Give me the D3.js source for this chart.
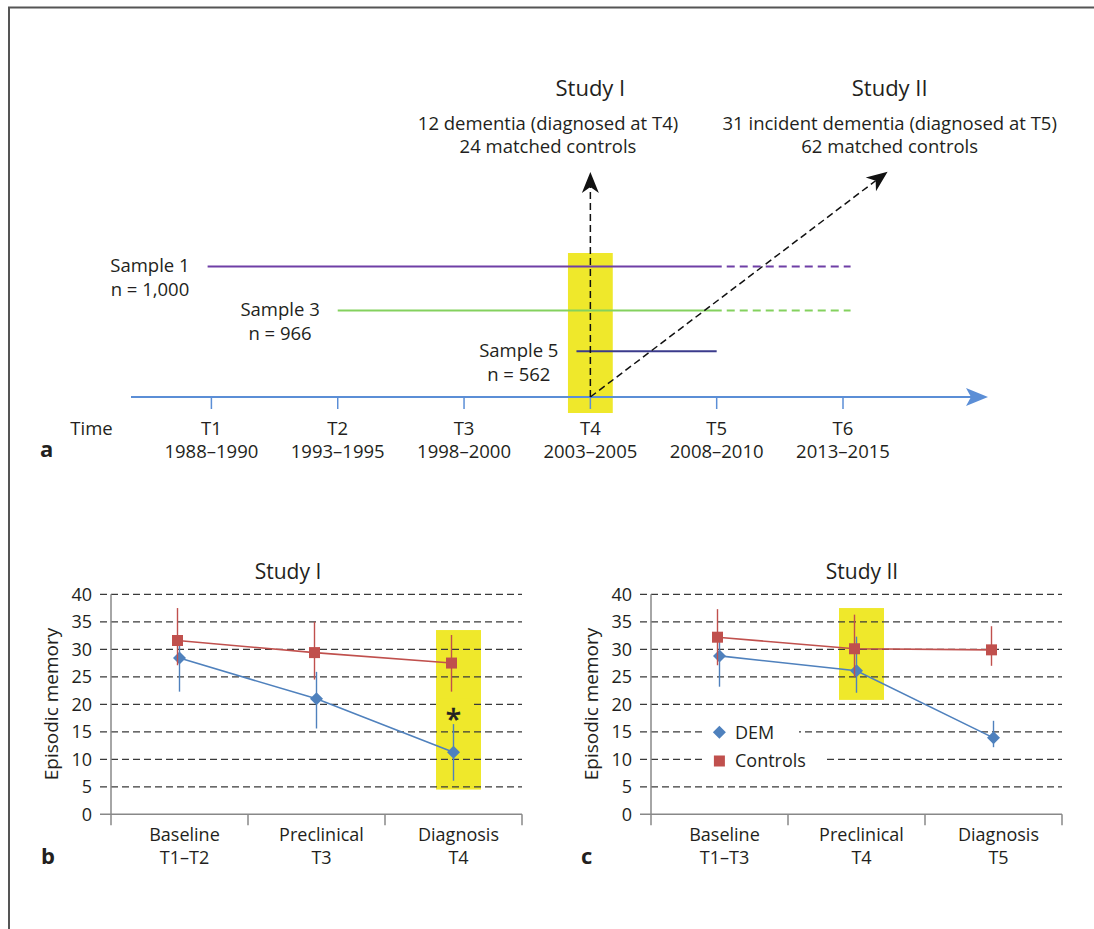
<!DOCTYPE html>
<html><head><meta charset="utf-8">
<script src="https://cdn.jsdelivr.net/npm/d3@7"></script>
<style>
html,body{margin:0;padding:0;background:#fff;}
svg{display:block;font-family:"Open Sans",sans-serif;}
</style></head><body>
<svg id="chart" width="1094" height="929"></svg>
<script>
// ---------------- DATA ----------------
// Panel a: timeline
const timePoints = ["T1", "T2", "T3", "T4", "T5", "T6"];
const timeYears = ["1988–1990", "1993–1995", "1998–2000", "2003–2005", "2008–2010", "2013–2015"];
const sampleNames = ["Sample 1", "Sample 3", "Sample 5"];
const sampleSizes = ["n = 1,000", "n = 966", "n = 562"];
const sampleStart = [0.97, 2.0, 3.89];      // in wave units (T1 = 1)
const sampleSolidEnd = [5.04, 5.04, 5.0];
const sampleDashEnd = [6.06, 6.06, null];
const studyTitles = ["Study I", "Study II"];
const studyLine1 = ["12 dementia (diagnosed at T4)", "31 incident dementia (diagnosed at T5)"];
const studyLine2 = ["24 matched controls", "62 matched controls"];
const studyWave = [4, 4];                    // both studies start at T4

// Panels b, c: episodic memory
const yTicks = [0, 5, 10, 15, 20, 25, 30, 35, 40];
const catTop = ["Baseline", "Preclinical", "Diagnosis"];
const catBottomB = ["T1–T2", "T3", "T4"];
const catBottomC = ["T1–T3", "T4", "T5"];

const demMeanB = [28.4, 21.0, 11.3];
const demLowB = [22.3, 15.6, 6.1];
const demHighB = [31.0, 25.9, 16.4];
const ctrlMeanB = [31.6, 29.4, 27.5];
const ctrlLowB = [27.1, 24.5, 22.3];
const ctrlHighB = [37.5, 35.0, 32.6];

const demMeanC = [28.8, 26.1, 13.9];
const demLowC = [23.2, 22.1, 12.2];
const demHighC = [32.0, 32.3, 17.0];
const ctrlMeanC = [32.2, 30.1, 29.9];
const ctrlLowC = [27.1, 25.0, 27.0];
const ctrlHighC = [37.3, 36.3, 34.2];

const legendLabels = ["DEM", "Controls"];

// ---------------- STYLE ----------------
const TXT = "#231f20";
const RED = "#c0504d", BLUE = "#4f81bd", YELLOW = "#efe82b";
const sampleColors = ["#6f3fa6", "#84d15e", "#3b3b8c"];
const TL_BLUE = "#5b8ed6";

const svg = d3.select("#chart");

// frame
svg.append("line").attr("x1", 8).attr("x2", 1094).attr("y1", 7.5).attr("y2", 7.5).attr("stroke", "#555").attr("stroke-width", 2);
svg.append("line").attr("x1", 9).attr("x2", 9).attr("y1", 7).attr("y2", 929).attr("stroke", "#555").attr("stroke-width", 2);

// ---------------- PANEL A ----------------
const tx = d3.scaleLinear().domain([1, 6]).range([211.4, 843]);
const tlY = 397;
const sampleY = [266.5, 310.5, 351.3];
const gA = svg.append("g");

// yellow highlight at T4
gA.append("rect").attr("x", tx(4) - 22.4).attr("width", 44.8).attr("y", 253).attr("height", 160).attr("fill", YELLOW);

// sample lines
sampleNames.forEach((s, i) => {
  gA.append("line").attr("x1", tx(sampleStart[i])).attr("x2", tx(sampleSolidEnd[i]))
    .attr("y1", sampleY[i]).attr("y2", sampleY[i]).attr("stroke", sampleColors[i]).attr("stroke-width", 2);
  if (sampleDashEnd[i] != null) {
    gA.append("line").attr("x1", tx(sampleSolidEnd[i]) + 5).attr("x2", tx(sampleDashEnd[i]))
      .attr("y1", sampleY[i]).attr("y2", sampleY[i]).attr("stroke", sampleColors[i]).attr("stroke-width", 1.8)
      .attr("stroke-dasharray", "8,5");
  }
  const lab = gA.append("g").attr("font-size", 18.5).attr("fill", TXT).attr("text-anchor", "middle");
  const t1 = lab.append("text").attr("y", sampleY[i] + 5.8).text(s);
  const t2 = lab.append("text").attr("y", sampleY[i] + 29.6).text(sampleSizes[i]);
  const w = Math.max(t1.node().getComputedTextLength(), t2.node().getComputedTextLength());
  const cx = tx(sampleStart[i]) - 18 - w / 2;
  t1.attr("x", cx); t2.attr("x", cx);
});

// timeline
gA.append("line").attr("x1", 131).attr("x2", 975).attr("y1", tlY).attr("y2", tlY).attr("stroke", TL_BLUE).attr("stroke-width", 2);
gA.append("path").attr("d", `M988,${tlY}L966,${tlY - 9}L971,${tlY}L966,${tlY + 9}Z`).attr("fill", TL_BLUE);
gA.selectAll(".tk").data(timePoints).enter().append("line")
  .attr("x1", (d, i) => tx(i + 1)).attr("x2", (d, i) => tx(i + 1))
  .attr("y1", tlY).attr("y2", tlY + 12).attr("stroke", TL_BLUE).attr("stroke-width", 1.5);
gA.selectAll(".tl").data(timePoints).enter().append("text")
  .attr("x", (d, i) => tx(i + 1)).attr("y", 434.5).attr("text-anchor", "middle").attr("font-size", 18.5).attr("fill", TXT).text(d => d);
gA.selectAll(".ty").data(timeYears).enter().append("text")
  .attr("x", (d, i) => tx(i + 1)).attr("y", 458.2).attr("text-anchor", "middle").attr("font-size", 18.5).attr("fill", TXT).text(d => d);
gA.append("text").attr("x", 91.5).attr("y", 434.5).attr("text-anchor", "middle").attr("font-size", 18.5).attr("fill", TXT).text("Time");
gA.append("text").attr("x", 40).attr("y", 457).attr("font-size", 22).attr("font-weight", "bold").attr("fill", TXT).text("a");

// dashed arrows
function dashedArrow(x1, y1, x2, y2) {
  const ang = Math.atan2(y2 - y1, x2 - x1);
  const len = 21, half = 8.5, notch = 6;
  const bx = x2 - (len - notch) * Math.cos(ang), by = y2 - (len - notch) * Math.sin(ang);
  gA.append("line").attr("x1", x1).attr("y1", y1).attr("x2", bx).attr("y2", by)
    .attr("stroke", "#111").attr("stroke-width", 1.5).attr("stroke-dasharray", "7,4");
  const ca = Math.cos(ang), sa = Math.sin(ang);
  const p = (l, w) => [x2 - l * ca - w * sa, y2 - l * sa + w * ca];
  const pts = [p(0, 0), p(len, -half), p(len - notch, 0), p(len, half)];
  gA.append("path").attr("d", "M" + pts.map(q => q.join(",")).join("L") + "Z").attr("fill", "#111");
}
const studyX = [tx(4), 889.7];
const lineX = [548, 889.7];
dashedArrow(tx(studyWave[0]), tlY, tx(studyWave[0]), 172);
dashedArrow(tx(studyWave[1]), tlY, 887.6, 171.7);

studyTitles.forEach((s, i) => {
  gA.append("text").attr("x", studyX[i]).attr("y", 96).attr("text-anchor", "middle").attr("font-size", 22).attr("fill", TXT).text(s);
  gA.append("text").attr("x", lineX[i]).attr("y", 129.5).attr("text-anchor", "middle").attr("font-size", 18.5).attr("fill", TXT).text(studyLine1[i]);
  gA.append("text").attr("x", lineX[i]).attr("y", 153.3).attr("text-anchor", "middle").attr("font-size", 18.5).attr("fill", TXT).text(studyLine2[i]);
});

// ---------------- PANELS B, C ----------------
const y = d3.scaleLinear().domain([0, 40]).range([814.3, 594.3]);

function panel(o) {
  const g = svg.append("g");
  const x = d3.scaleBand().domain(catTop).range(o.range);
  const cx = c => x(c) + x.bandwidth() / 2;
  const [L, R] = o.range;

  // highlight
  const hc = cx(catTop[o.hl]) + 5;
  g.append("rect").attr("x", hc - 22.5).attr("width", 45).attr("y", y(o.hlTop)).attr("height", y(o.hlBottom) - y(o.hlTop)).attr("fill", YELLOW);

  // gridlines
  g.selectAll(".grid").data(yTicks.filter(v => v > 0)).enter().append("line")
    .attr("x1", L - 11).attr("x2", R).attr("y1", d => y(d)).attr("y2", d => y(d))
    .attr("stroke", "#3a3a3a").attr("stroke-width", 1.2).attr("stroke-dasharray", "7,4");
  // axes
  g.append("line").attr("x1", L - 11).attr("x2", R).attr("y1", y(0)).attr("y2", y(0)).attr("stroke", "#888").attr("stroke-width", 1.5);
  g.append("line").attr("x1", L).attr("x2", L).attr("y1", y(40)).attr("y2", y(0) + 11).attr("stroke", "#888").attr("stroke-width", 1.5);
  catTop.forEach((c, i) => {
    const xb = x(c) + x.bandwidth();
    g.append("line").attr("x1", xb).attr("x2", xb).attr("y1", y(0)).attr("y2", y(0) + 11).attr("stroke", "#888").attr("stroke-width", 1.5);
  });
  // tick labels
  g.selectAll(".yl").data(yTicks).enter().append("text")
    .attr("x", L - 19).attr("y", d => y(d) + 6.4).attr("text-anchor", "end").attr("font-size", 18).attr("fill", TXT).text(d => d);
  // category labels
  catTop.forEach((c, i) => {
    g.append("text").attr("x", cx(c) + 5).attr("y", 841).attr("text-anchor", "middle").attr("font-size", 18).attr("fill", TXT).text(c);
    g.append("text").attr("x", cx(c) + 5).attr("y", 864).attr("text-anchor", "middle").attr("font-size", 18).attr("fill", TXT).text(o.catBottom[i]);
  });
  // y label
  g.append("text").attr("transform", `translate(${L - 53.5},704) rotate(-90)`).attr("text-anchor", "middle").attr("font-size", 19).attr("fill", TXT).text("Episodic memory");
  // title
  g.append("text").attr("x", o.titleX).attr("y", 579).attr("text-anchor", "middle").attr("font-size", 21).attr("fill", TXT).text(o.title);
  // letter
  g.append("text").attr("x", o.letterX).attr("y", 864).attr("font-size", 22).attr("font-weight", "bold").attr("fill", TXT).text(o.letter);

  // asterisk
  if (o.star) {
    g.append("rect").attr("x", hc - 22.5).attr("width", 34).attr("y", y(20) - 6).attr("height", 14).attr("fill", YELLOW);
    g.append("text").attr("x", cx(catTop[o.hl])).attr("y", 729).attr("text-anchor", "middle").attr("font-size", 28)
      .attr("fill", "#222").attr("stroke", "#222").attr("stroke-width", 0.6).text("*");
  }

  // legend
  if (o.legend) {
    g.append("rect").attr("x", 702).attr("width", 97).attr("y", 722).attr("height", 21).attr("fill", "#fff");
    g.append("rect").attr("x", 702).attr("width", 124).attr("y", 750).attr("height", 21).attr("fill", "#fff");
    g.append("path").attr("d", diamond(719.4, 732.3)).attr("fill", BLUE);
    g.append("rect").attr("x", 719.4 - 5.5).attr("y", 761 - 5.5).attr("width", 11).attr("height", 11).attr("fill", RED);
    g.append("text").attr("x", 735).attr("y", 738.6).attr("font-size", 18).attr("fill", TXT).text(legendLabels[0]);
    g.append("text").attr("x", 735).attr("y", 767.3).attr("font-size", 18).attr("fill", TXT).text(legendLabels[1]);
  }

  // series
  function series(mean, low, high, color, dx, marker) {
    const pts = catTop.map((c, i) => [cx(c) + dx, y(mean[i])]);
    g.append("path").attr("d", d3.line()(pts)).attr("fill", "none").attr("stroke", color).attr("stroke-width", 1.6);
    catTop.forEach((c, i) => {
      g.append("line").attr("x1", cx(c) + dx).attr("x2", cx(c) + dx).attr("y1", y(low[i])).attr("y2", y(high[i]))
        .attr("stroke", color).attr("stroke-width", 1.4);
    });
    catTop.forEach((c, i) => {
      if (marker === "diamond") g.append("path").attr("d", diamond(cx(c) + dx, y(mean[i]))).attr("fill", color);
      else g.append("rect").attr("x", cx(c) + dx - 5.5).attr("y", y(mean[i]) - 5.5).attr("width", 11).attr("height", 11).attr("fill", color);
    });
  }
  series(o.dem[0], o.dem[1], o.dem[2], BLUE, 0, "diamond");
  series(o.ctrl[0], o.ctrl[1], o.ctrl[2], RED, -2, "square");
}
function diamond(cx, cy) {
  const r = 6.5;
  return `M${cx},${cy - r}L${cx + r},${cy}L${cx},${cy + r}L${cx - r},${cy}Z`;
}

panel({
  range: [111, 522], catBottom: catBottomB,
  dem: [demMeanB, demLowB, demHighB], ctrl: [ctrlMeanB, ctrlLowB, ctrlHighB],
  hl: 2, hlTop: 33.5, hlBottom: 4.5, title: "Study I", titleX: 288, letter: "b", letterX: 41, star: true, legend: false
});
panel({
  range: [651, 1062], catBottom: catBottomC,
  dem: [demMeanC, demLowC, demHighC], ctrl: [ctrlMeanC, ctrlLowC, ctrlHighC],
  hl: 1, hlTop: 37.5, hlBottom: 20.8, title: "Study II", titleX: 862, letter: "c", letterX: 581, star: false, legend: true
});
</script></body></html>
